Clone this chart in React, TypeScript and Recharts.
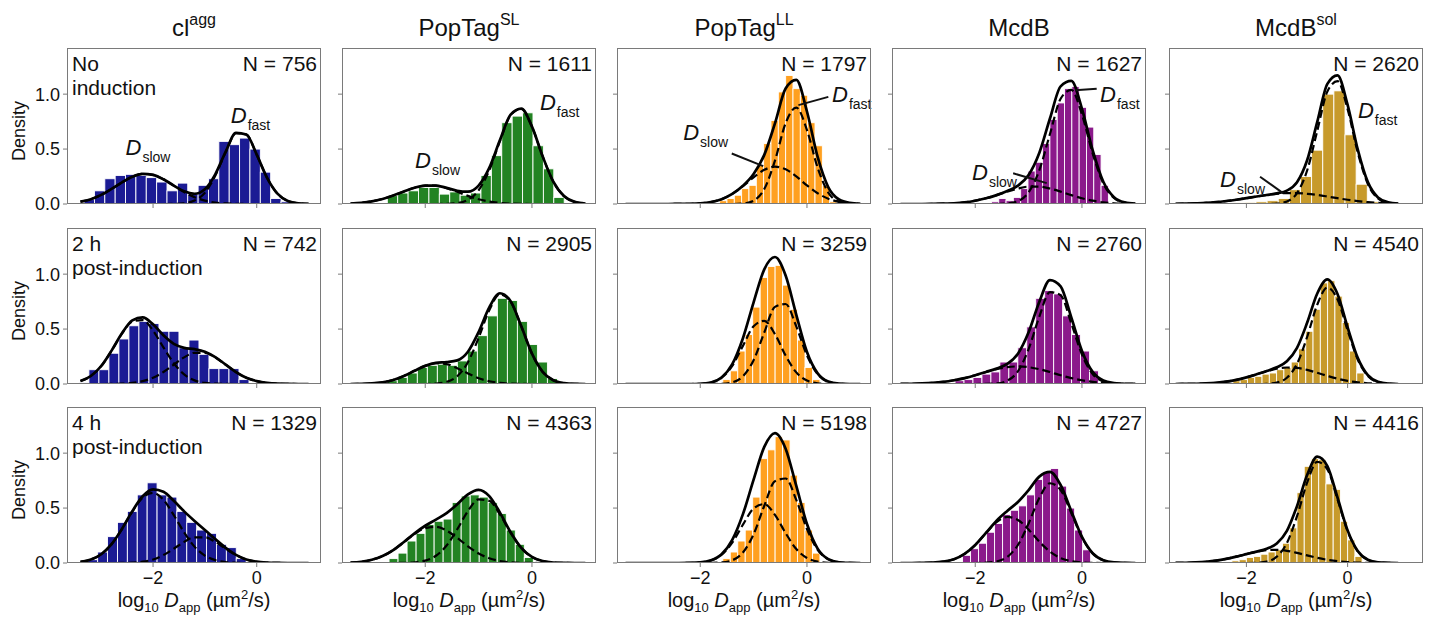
import React from "react";
import {
  ComposedChart,
  Bar,
  Area,
  Line,
  XAxis,
  YAxis,
  ReferenceLine,
  ReferenceDot,
} from "recharts";

const FONT = '"Liberation Sans", Arial, Helvetica, sans-serif';
const INK = "#111111";
const SPINE = "#7a7a7a";

// sample positions of the fitted curves (log10 D_app)
const fitX = [
  -3.4, -3.2, -3.0, -2.8, -2.6, -2.4, -2.2, -2.0, -1.8, -1.6, -1.4, -1.2,
  -1.0, -0.8, -0.6, -0.4, -0.2, 0.0, 0.2, 0.4, 0.6, 0.8, 1.0,
];

const titles = ["cl", "PopTag", "PopTag", "McdB", "McdB"];
const titleSups = ["agg", "SL", "LL", "", "sol"];
const colors = ["#1b1b94", "#238323", "#ffa020", "#8b1a8b", "#c79a2b"];

const rowLabels = [
  ["No", "induction"],
  ["2 h", "post-induction"],
  ["4 h", "post-induction"],
];

const counts = [
  [756, 1611, 1797, 1627, 2620],
  [742, 2905, 3259, 2760, 4540],
  [1329, 4363, 5198, 4727, 4416],
];

// histogram bins: first edge and width of each panel
const binStart = [
  [-3.34, -2.72, -1.63, -1.69, -2.26],
  [-3.44, -2.72, -1.57, -2.37, -2.26],
  [-3.25, -2.67, -1.57, -2.23, -2.28],
];
const binWidth = [
  [0.2, 0.195, 0.1375, 0.137, 0.22],
  [0.193, 0.1875, 0.14, 0.168, 0.144],
  [0.191, 0.169, 0.14, 0.15, 0.143],
];

const barsNoInduction = [
  [0.04, 0.12, 0.23, 0.26, 0.27, 0.26, 0.24, 0.2, 0.12, 0.19, 0.09, 0.17, 0.23, 0.57, 0.54, 0.6, 0.5, 0.29, 0.05, 0.02],
  [0.076, 0.1, 0.12, 0.15, 0.15, 0.09, 0.11, 0.08, 0.1, 0.26, 0.44, 0.74, 0.8, 0.83, 0.53, 0.32, 0.06],
  [0.03, 0.05, 0.08, 0.14, 0.17, 0.35, 0.55, 0.76, 1.02, 1.17, 1.05, 0.99, 0.74, 0.53, 0.17, 0.02],
  [0.02, 0.05, 0.03, 0.06, 0.14, 0.3, 0.38, 0.55, 0.77, 0.92, 1.05, 1.07, 0.88, 0.7, 0.45, 0.17],
  [0.01, 0.015, 0.02, 0.03, 0.05, 0.13, 0.25, 0.49, 1.0, 1.03, 0.63, 0.18, 0.02],
];
const bars2h = [
  [0.01, 0.13, 0.13, 0.28, 0.41, 0.53, 0.57, 0.55, 0.48, 0.48, 0.33, 0.4, 0.27, 0.14, 0.14, 0.14, 0.04],
  [0.03, 0.06, 0.1, 0.15, 0.17, 0.18, 0.17, 0.21, 0.3, 0.44, 0.62, 0.78, 0.76, 0.57, 0.36, 0.2, 0.05],
  [0.04, 0.12, 0.3, 0.45, 0.7, 0.97, 1.07, 1.08, 0.9, 0.68, 0.4, 0.15, 0.04],
  [0.03, 0.04, 0.06, 0.09, 0.11, 0.2, 0.2, 0.33, 0.52, 0.78, 0.85, 0.82, 0.62, 0.45, 0.3, 0.12],
  [0.03, 0.04, 0.06, 0.07, 0.09, 0.1, 0.13, 0.15, 0.2, 0.32, 0.48, 0.68, 0.92, 0.94, 0.8, 0.56, 0.3, 0.1],
];
const bars4h = [
  [0.03, 0.1, 0.24, 0.37, 0.47, 0.62, 0.73, 0.62, 0.6, 0.47, 0.37, 0.3, 0.27, 0.17, 0.14, 0.04],
  [0.04, 0.09, 0.2, 0.27, 0.35, 0.38, 0.4, 0.55, 0.61, 0.62, 0.6, 0.55, 0.45, 0.3, 0.17, 0.05],
  [0.04, 0.1, 0.2, 0.3, 0.6, 0.95, 1.03, 1.15, 1.12, 0.8, 0.55, 0.3, 0.09],
  [0.07, 0.13, 0.18, 0.28, 0.36, 0.44, 0.48, 0.52, 0.62, 0.76, 0.83, 0.86, 0.7, 0.5, 0.3, 0.12],
  [0.02, 0.03, 0.05, 0.06, 0.08, 0.1, 0.12, 0.18, 0.32, 0.64, 0.88, 0.95, 0.94, 0.72, 0.67, 0.38, 0.21, 0.06],
];

// fitted components sampled at fitX (slow / fast)
const slowNoInduction = [
  [0.021, 0.044, 0.083, 0.137, 0.197, 0.248, 0.274, 0.265, 0.225, 0.167, 0.108, 0.062, 0.031, 0.013, 0.005, 0.002, 0, 0, 0, 0, 0, 0, 0],
  [0.004, 0.011, 0.024, 0.046, 0.077, 0.114, 0.148, 0.168, 0.167, 0.145, 0.111, 0.074, 0.043, 0.022, 0.01, 0.004, 0.001, 0, 0, 0, 0, 0, 0],
  [0, 0, 0, 0, 0, 0.001, 0.002, 0.006, 0.018, 0.044, 0.092, 0.162, 0.243, 0.311, 0.34, 0.316, 0.251, 0.169, 0.098, 0.048, 0.02, 0.007, 0.002],
  [0, 0, 0, 0.001, 0.003, 0.007, 0.015, 0.03, 0.052, 0.081, 0.113, 0.141, 0.158, 0.158, 0.141, 0.113, 0.081, 0.052, 0.03, 0.015, 0.007, 0.003, 0.001],
  [0.002, 0.003, 0.006, 0.01, 0.017, 0.027, 0.039, 0.053, 0.068, 0.082, 0.093, 0.099, 0.099, 0.093, 0.082, 0.068, 0.053, 0.039, 0.027, 0.017, 0.01, 0.006, 0.003],
];
const fastNoInduction = [
  [0, 0, 0, 0, 0, 0, 0, 0, 0, 0.001, 0.007, 0.031, 0.103, 0.257, 0.47, 0.645, 0.632, 0.449, 0.238, 0.094, 0.027, 0.006, 0.001],
  [0, 0, 0, 0, 0, 0, 0, 0, 0, 0.002, 0.009, 0.038, 0.125, 0.307, 0.572, 0.809, 0.867, 0.704, 0.434, 0.203, 0.072, 0.019, 0.004],
  [0, 0, 0, 0, 0, 0, 0, 0, 0, 0, 0, 0.004, 0.03, 0.136, 0.394, 0.735, 0.878, 0.673, 0.33, 0.104, 0.021, 0.003, 0],
  [0, 0, 0, 0, 0, 0, 0, 0, 0, 0, 0.005, 0.026, 0.106, 0.306, 0.637, 0.958, 1.039, 0.814, 0.46, 0.187, 0.055, 0.012, 0.002],
  [0, 0, 0, 0, 0, 0, 0, 0, 0, 0, 0.004, 0.023, 0.099, 0.305, 0.665, 1.025, 1.118, 0.863, 0.47, 0.182, 0.05, 0.01, 0.001],
];
const slow2h = [
  [0.027, 0.073, 0.164, 0.303, 0.458, 0.569, 0.581, 0.486, 0.334, 0.189, 0.087, 0.033, 0.01, 0.003, 0.001, 0, 0, 0, 0, 0, 0, 0, 0],
  [0, 0.002, 0.006, 0.016, 0.037, 0.073, 0.12, 0.165, 0.189, 0.181, 0.144, 0.096, 0.053, 0.025, 0.01, 0.003, 0.001, 0, 0, 0, 0, 0, 0],
  [0, 0, 0, 0, 0, 0, 0, 0.002, 0.014, 0.057, 0.165, 0.347, 0.526, 0.575, 0.454, 0.259, 0.106, 0.031, 0.007, 0.001, 0, 0, 0],
  [0.001, 0.002, 0.005, 0.01, 0.019, 0.034, 0.054, 0.08, 0.109, 0.135, 0.153, 0.16, 0.153, 0.135, 0.109, 0.08, 0.054, 0.034, 0.019, 0.01, 0.005, 0.002, 0.001],
  [0, 0.001, 0.002, 0.005, 0.011, 0.021, 0.037, 0.06, 0.088, 0.116, 0.139, 0.15, 0.146, 0.129, 0.102, 0.074, 0.048, 0.028, 0.015, 0.007, 0.003, 0.001, 0],
];
const fast2h = [
  [0, 0, 0, 0.001, 0.003, 0.01, 0.026, 0.057, 0.109, 0.176, 0.242, 0.284, 0.284, 0.242, 0.176, 0.109, 0.057, 0.026, 0.01, 0.003, 0.001, 0, 0],
  [0, 0, 0, 0, 0, 0, 0, 0, 0.004, 0.019, 0.071, 0.198, 0.42, 0.672, 0.816, 0.75, 0.524, 0.276, 0.111, 0.034, 0.008, 0.001, 0],
  [0, 0, 0, 0, 0, 0, 0, 0, 0, 0.002, 0.015, 0.07, 0.217, 0.469, 0.702, 0.728, 0.524, 0.26, 0.09, 0.021, 0.004, 0, 0],
  [0, 0, 0, 0, 0, 0, 0, 0, 0.001, 0.005, 0.03, 0.116, 0.318, 0.612, 0.837, 0.808, 0.552, 0.267, 0.091, 0.022, 0.004, 0, 0],
  [0, 0, 0, 0, 0, 0, 0, 0, 0, 0.002, 0.013, 0.057, 0.183, 0.428, 0.722, 0.878, 0.771, 0.488, 0.223, 0.073, 0.017, 0.003, 0],
];
const slow4h = [
  [0.01, 0.031, 0.08, 0.171, 0.309, 0.468, 0.596, 0.639, 0.576, 0.436, 0.278, 0.149, 0.067, 0.026, 0.008, 0.002, 0, 0, 0, 0, 0, 0, 0],
  [0.004, 0.011, 0.029, 0.063, 0.117, 0.19, 0.264, 0.317, 0.329, 0.295, 0.228, 0.152, 0.087, 0.043, 0.018, 0.006, 0.002, 0.001, 0, 0, 0, 0, 0],
  [0, 0, 0, 0, 0, 0, 0.001, 0.005, 0.023, 0.075, 0.186, 0.349, 0.497, 0.536, 0.438, 0.272, 0.127, 0.046, 0.012, 0.002, 0, 0, 0],
  [0, 0, 0.001, 0.003, 0.012, 0.034, 0.083, 0.164, 0.271, 0.371, 0.419, 0.392, 0.304, 0.195, 0.103, 0.045, 0.017, 0.005, 0.001, 0, 0, 0, 0],
  [0.001, 0.002, 0.005, 0.011, 0.021, 0.037, 0.058, 0.081, 0.102, 0.117, 0.12, 0.111, 0.092, 0.069, 0.047, 0.029, 0.016, 0.008, 0.004, 0.001, 0, 0, 0],
];
const fast4h = [
  [0, 0, 0, 0, 0.001, 0.004, 0.012, 0.032, 0.072, 0.13, 0.192, 0.234, 0.234, 0.192, 0.13, 0.072, 0.032, 0.012, 0.004, 0.001, 0, 0, 0],
  [0, 0, 0, 0, 0, 0.001, 0.006, 0.022, 0.066, 0.159, 0.307, 0.473, 0.579, 0.566, 0.441, 0.274, 0.136, 0.054, 0.017, 0.004, 0.001, 0, 0],
  [0, 0, 0, 0, 0, 0, 0, 0, 0.001, 0.005, 0.025, 0.096, 0.262, 0.521, 0.745, 0.769, 0.574, 0.309, 0.119, 0.033, 0.007, 0.001, 0],
  [0, 0, 0, 0, 0, 0, 0, 0, 0.003, 0.014, 0.055, 0.164, 0.36, 0.591, 0.726, 0.665, 0.455, 0.232, 0.088, 0.025, 0.005, 0.001, 0],
  [0, 0, 0, 0, 0, 0, 0, 0, 0.002, 0.013, 0.058, 0.182, 0.426, 0.731, 0.921, 0.853, 0.58, 0.289, 0.106, 0.029, 0.006, 0.001, 0],
];

// top row annotations: where the "D" of each label sits, and pointer lines
const dLabels = [
  [{ sub: "slow", x: -2.53, y: 0.445 }, { sub: "fast", x: -0.5, y: 0.736 }],
  [{ sub: "slow", x: -2.19, y: 0.327 }, { sub: "fast", x: 0.15, y: 0.855 }],
  [{ sub: "slow", x: -2.32, y: 0.58 }, { sub: "fast", x: 0.47, y: 0.927 }],
  [{ sub: "slow", x: -2.06, y: 0.218 }, { sub: "fast", x: 0.34, y: 0.927 }],
  [{ sub: "slow", x: -2.52, y: 0.155 }, { sub: "fast", x: 0.205, y: 0.78 }],
];
const dPointers = [
  [],
  [],
  [[[0.4, 0.975], [-0.16, 0.9]], [[-1.41, 0.46], [-0.82, 0.345]]],
  [[[0.276, 1.05], [-0.13, 1.036]], [[-1.29, 0.28], [-0.66, 0.19]]],
  [[[-1.73, 0.248], [-1.27, 0.097]]],
];

const barSets = [barsNoInduction, bars2h, bars4h];
const slowSets = [slowNoInduction, slow2h, slow4h];
const fastSets = [fastNoInduction, fast2h, fast4h];

// layout
const PLOT_W = 254;
const PLOT_H = 156;
const panelLeft = [67, 342, 617, 892, 1169];
const panelTop = [48, 228, 407];
const xDomains = [
  [-3.66, 1.24],
  [-3.56, 1.2],
  [-3.56, 1.2],
  [-3.56, 1.2],
  [-3.53, 1.49],
];
const Y_MAX = 1.42;
const YW = 50;
const MT = 6;
const MR = 6;
const XH = 32;
const CW = YW + PLOT_W + MR;
const CH = MT + PLOT_H + XH;

const renderD = (props: any, sub: string) => {
  const vb = props.viewBox || {};
  return (
    <text x={vb.x} y={vb.y} fontFamily={FONT} fill={INK}>
      <tspan fontSize={22} fontStyle="italic">
        D
      </tspan>
      <tspan fontSize={14} dx={1} dy={7}>
        {sub}
      </tspan>
    </text>
  );
};

function Panel({ row, col }: { row: number; col: number }) {
  const color = colors[col];
  const dom = xDomains[col];
  const w = binWidth[row][col];
  const bw = (w * PLOT_W) / (dom[1] - dom[0]);
  const bars = barSets[row][col].map((h, i) => ({
    x: binStart[row][col] + (i + 0.5) * w,
    h,
  }));
  const fit = fitX.map((x, i) => ({
    x,
    slow: slowSets[row][col][i],
    fast: fastSets[row][col][i],
  }));
  const tickStyle = { fontSize: 18, fill: INK, fontFamily: FONT };
  const layer: React.CSSProperties = { position: "absolute", left: 0, top: 0 };

  return (
    <div
      style={{
        position: "absolute",
        left: panelLeft[col] - YW,
        top: panelTop[row] - MT,
        width: CW,
        height: CH,
      }}
    >
      {/* histogram */}
      <div style={layer}>
        <ComposedChart
          width={CW}
          height={CH}
          data={bars}
          margin={{ top: MT, right: MR, left: 0, bottom: 0 }}
        >
          <XAxis
            type="number"
            dataKey="x"
            domain={dom}
            allowDataOverflow
            ticks={[-2, 0]}
            interval={0}
            height={XH}
            axisLine={false}
            tickLine={{ stroke: SPINE }}
            tickSize={4}
            tickMargin={4}
            tick={tickStyle}
            tickFormatter={(v: number) =>
              row === 2 ? (v < 0 ? "\u2212" + Math.abs(v) : String(v)) : ""
            }
          />
          <YAxis
            type="number"
            domain={[0, Y_MAX]}
            allowDataOverflow
            ticks={[0, 0.5, 1]}
            interval={0}
            width={YW}
            axisLine={false}
            tickLine={{ stroke: SPINE }}
            tickSize={4}
            tickMargin={3}
            tick={tickStyle}
            tickFormatter={(v: number) => (col === 0 ? Number(v).toFixed(1) : "")}
          />
          <Bar
            dataKey="h"
            barSize={bw}
            isAnimationActive={false}
            shape={(p: any) => (
              <rect
                x={p.x + (p.width || 0) / 2 - bw / 2}
                y={p.y}
                width={bw}
                height={Math.max(0, p.height || 0)}
                fill={color}
                stroke="#ffffff"
                strokeWidth={0.9}
              />
            )}
          />
        </ComposedChart>
      </div>

      {/* fitted curves */}
      <div style={layer}>
        <ComposedChart
          width={CW}
          height={CH}
          data={fit}
          margin={{ top: MT, right: MR, left: YW, bottom: XH }}
        >
          <XAxis type="number" dataKey="x" domain={dom} allowDataOverflow hide />
          <YAxis type="number" domain={[0, Y_MAX]} allowDataOverflow hide />
          <Line
            dataKey="slow"
            type="monotone"
            stroke="#000"
            strokeWidth={2.2}
            strokeDasharray="8 4"
            dot={false}
            activeDot={false}
            isAnimationActive={false}
          />
          <Line
            dataKey="fast"
            type="monotone"
            stroke="#000"
            strokeWidth={2.2}
            strokeDasharray="8 4"
            dot={false}
            activeDot={false}
            isAnimationActive={false}
          />
          <Area
            dataKey="slow"
            stackId="fit"
            type="monotone"
            stroke="none"
            fill="none"
            activeDot={false}
            isAnimationActive={false}
          />
          <Area
            dataKey="fast"
            stackId="fit"
            type="monotone"
            stroke="#000"
            strokeWidth={2.7}
            fill="none"
            activeDot={false}
            isAnimationActive={false}
          />
          {row === 0 &&
            dPointers[col].map((seg, i) => (
              <ReferenceLine
                key={"p" + i}
                segment={[
                  { x: seg[0][0], y: seg[0][1] },
                  { x: seg[1][0], y: seg[1][1] },
                ]}
                stroke="#111"
                strokeWidth={2}
              />
            ))}
          {row === 0 &&
            dLabels[col].map((d) => (
              <ReferenceDot
                key={d.sub}
                x={d.x}
                y={d.y}
                r={0}
                fill="none"
                stroke="none"
                label={{ content: (p: any) => renderD(p, d.sub) }}
              />
            ))}
        </ComposedChart>
      </div>

      {/* frame */}
      <div
        style={{
          position: "absolute",
          left: YW,
          top: MT,
          width: PLOT_W,
          height: PLOT_H,
          border: `1px solid ${SPINE}`,
          boxSizing: "border-box",
          pointerEvents: "none",
        }}
      />
    </div>
  );
}

const subStyle: React.CSSProperties = { fontSize: 13, position: "relative", top: 5 };

export default function App() {
  const rows = [0, 1, 2];
  const cols = [0, 1, 2, 3, 4];
  return (
    <div
      style={{
        position: "absolute",
        left: 0,
        top: 0,
        width: 1438,
        height: 618,
        background: "#ffffff",
        fontFamily: FONT,
        color: INK,
        overflow: "hidden",
      }}
    >
      {rows.map((r) => cols.map((c) => <Panel key={r + "-" + c} row={r} col={c} />))}

      {cols.map((c) => (
        <div
          key={"t" + c}
          style={{
            position: "absolute",
            left: panelLeft[c],
            width: PLOT_W,
            top: 16,
            textAlign: "center",
            fontSize: 24,
            lineHeight: "24px",
            whiteSpace: "nowrap",
          }}
        >
          {titles[c]}
          {titleSups[c] && (
            <span style={{ fontSize: 16, position: "relative", top: -11 }}>{titleSups[c]}</span>
          )}
        </div>
      ))}

      {rows.map((r) => (
        <div
          key={"d" + r}
          style={{
            position: "absolute",
            left: 19 - 60,
            top: panelTop[r] + 83 - 10,
            width: 120,
            height: 20,
            lineHeight: "20px",
            fontSize: 18,
            textAlign: "center",
            transform: "rotate(-90deg)",
          }}
        >
          Density
        </div>
      ))}

      {rows.map((r) =>
        cols.map((c) => (
          <div
            key={"n" + r + c}
            style={{
              position: "absolute",
              left: panelLeft[c] + PLOT_W - 4 - 200,
              width: 200,
              top: panelTop[r] + 5,
              textAlign: "right",
              fontSize: 21,
              lineHeight: "21px",
              whiteSpace: "nowrap",
            }}
          >
            N = {counts[r][c]}
          </div>
        ))
      )}

      {rows.map((r) => (
        <div
          key={"r" + r}
          style={{
            position: "absolute",
            left: panelLeft[0] + 5,
            top: panelTop[r] + 4,
            fontSize: 21,
            lineHeight: "24px",
            whiteSpace: "nowrap",
          }}
        >
          {rowLabels[r][0]}
          <br />
          {rowLabels[r][1]}
        </div>
      ))}

      {cols.map((c) => (
        <div
          key={"x" + c}
          style={{
            position: "absolute",
            left: panelLeft[c],
            width: PLOT_W,
            top: 590,
            textAlign: "center",
            fontSize: 20,
            lineHeight: "20px",
            whiteSpace: "nowrap",
          }}
        >
          log<span style={subStyle}>10</span> <i>D</i>
          <span style={subStyle}>app</span> (µm
          <span style={{ fontSize: 13, position: "relative", top: -8 }}>2</span>/s)
        </div>
      ))}
    </div>
  );
}
